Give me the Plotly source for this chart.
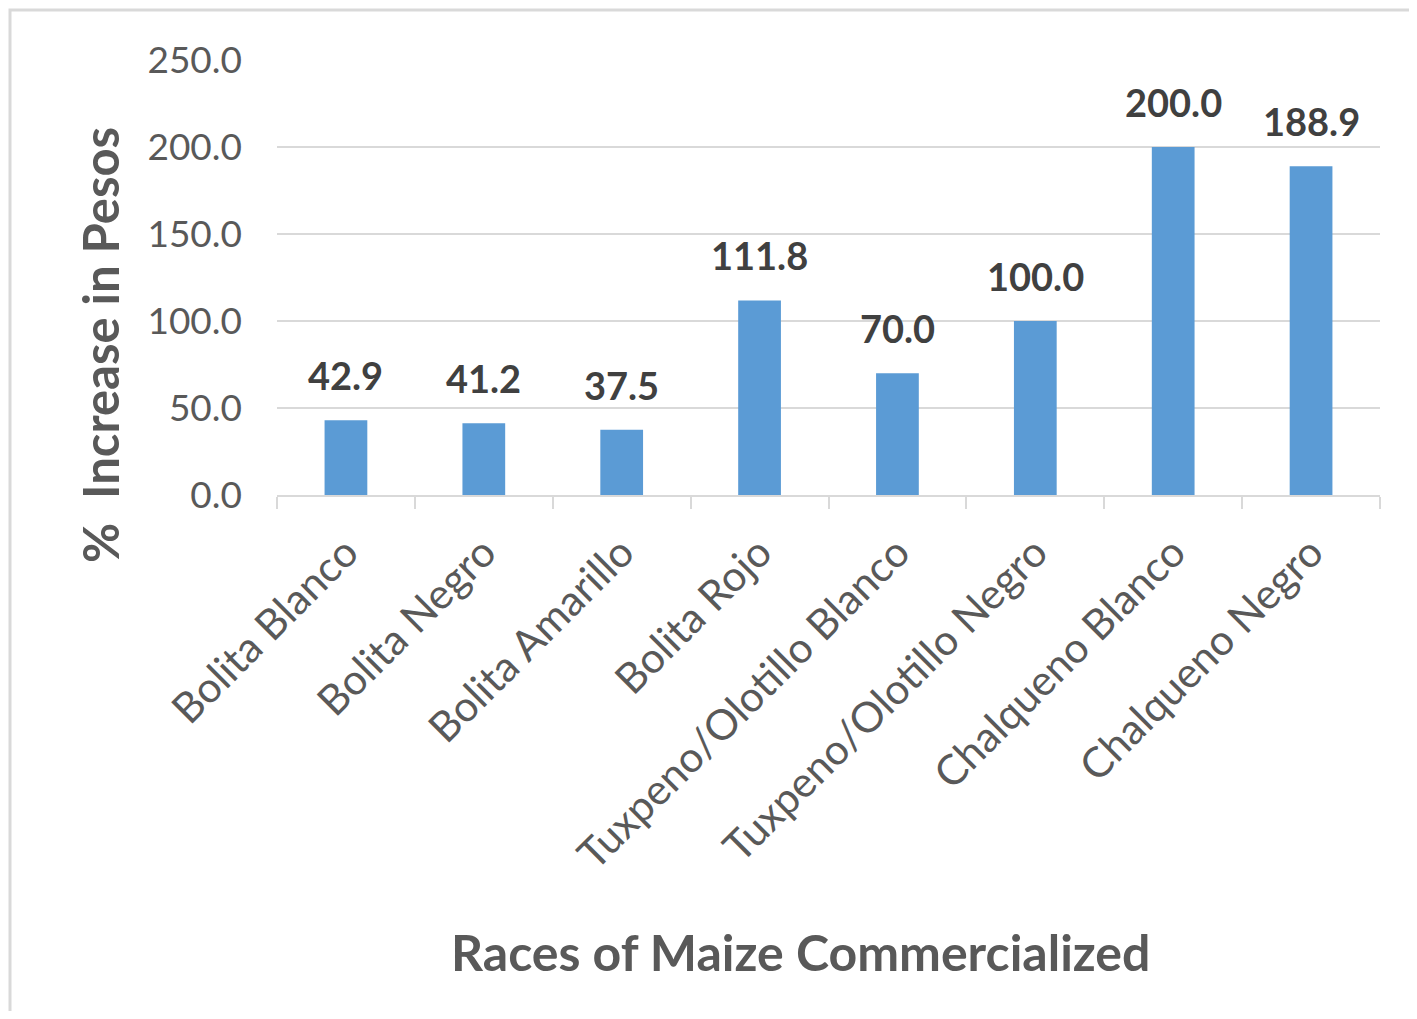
import plotly.graph_objects as go

categories = ["Bolita Blanco", "Bolita Negro", "Bolita Amarillo", "Bolita Rojo",
              "Tuxpeno/Olotillo Blanco", "Tuxpeno/Olotillo Negro",
              "Chalqueno Blanco", "Chalqueno Negro"]
values = [42.9, 41.2, 37.5, 111.8, 70.0, 100.0, 200.0, 188.9]
y_ticks = [0, 50, 100, 150, 200, 250]
y_tick_labels = ["0.0", "50.0", "100.0", "150.0", "200.0", "250.0"]

FONT = "Lato"
GRID = "#d9d9d9"

fig = go.Figure()
fig.add_trace(go.Bar(
    x=categories, y=values,
    marker=dict(color="#5b9bd5", line=dict(width=0)),
    hoverinfo="x+y",
))

for c, v in zip(categories, values):
    fig.add_annotation(x=c, y=v, text=f"<b>{v:.1f}</b>", showarrow=False,
                       yanchor="bottom", yshift=20,
                       font=dict(family=FONT, size=38, color="#404040"))

# page offset of 8px (body margin)
OFF = 8
W, H = 1417 - 2 * OFF, 1019 - 2 * OFF
L, R, T, B = 277 - OFF, W - (1380 - OFF), 60 - OFF, H - (495 - OFF)
PW, PH = W - L - R, H - T - B


def px(xp):
    return (xp - OFF - L) / PW


def py(yp):
    return (H - B - (yp - OFF)) / PH


fig.update_layout(
    width=W, height=H,
    margin=dict(l=L, r=R, t=T, b=B, autoexpand=False),
    paper_bgcolor="white", plot_bgcolor="white",
    bargap=0.69,
    showlegend=False,
    font=dict(family=FONT, color="#595959"),
    xaxis=dict(
        type="category",
        tickangle=-45,
        tickfont=dict(family=FONT, size=42, color="#595959"),
        showline=True, linecolor=GRID, linewidth=2,
        ticks="outside", tickson="boundaries", ticklen=12, tickcolor=GRID, tickwidth=2,
        ticklabelstandoff=14,
        showgrid=False,
    ),
    yaxis=dict(
        range=[0, 250],
        tickvals=y_ticks, ticktext=y_tick_labels,
        tickfont=dict(family=FONT, size=37, color="#595959"),
        showgrid=True, gridcolor=GRID, gridwidth=2,
        zeroline=False, showline=False,
        ticks="", ticklabelstandoff=34,
    ),
)

# Axis titles
fig.add_annotation(xref="paper", yref="paper",
                   x=px(800), y=py(952),
                   text="<b>Races of Maize Commercialized</b>", showarrow=False,
                   xanchor="center", yanchor="middle",
                   font=dict(family=FONT, size=50, color="#595959"))
fig.add_annotation(xref="paper", yref="paper",
                   x=px(100), y=py(345),
                   text="<b>%  Increase in Pesos</b>", showarrow=False, textangle=-90,
                   xanchor="center", yanchor="middle",
                   font=dict(family=FONT, size=49, color="#595959"))

# Outer chart border
fig.add_shape(type="rect", xref="paper", yref="paper",
              x0=px(10), x1=px(1440),
              y0=py(1040), y1=py(10),
              line=dict(color="#d9d9d9", width=3), layer="below")

fig.write_html("out.html")
